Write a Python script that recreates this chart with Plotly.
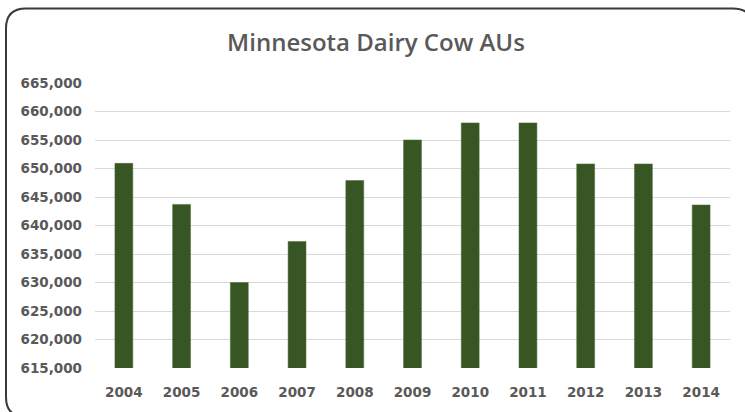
import plotly.graph_objects as go

# Minnesota dairy cow animal units by year
years = ["2004", "2005", "2006", "2007", "2008", "2009", "2010", "2011", "2012", "2013", "2014"]
animal_units = [650900, 643700, 630000, 637200, 647900, 655000, 658000, 658000, 650800, 650800, 643600]
y_ticks = list(range(615000, 665001, 5000))

W, H = 745, 412
PLOT_L, PLOT_R, PLOT_T, PLOT_B = 95, 730, 83, 368


def px_x(x):
    return (x - PLOT_L) / (PLOT_R - PLOT_L)


def px_y(y):
    return (PLOT_B - y) / (PLOT_B - PLOT_T)


def rounded_frame(x0, y0, x1, y1, r):
    pts = [
        ("M", [(x0 + r, y0)]),
        ("L", [(x1 - r, y0)]),
        ("Q", [(x1, y0), (x1, y0 + r)]),
        ("L", [(x1, y1 - r)]),
        ("Q", [(x1, y1), (x1 - r, y1)]),
        ("L", [(x0 + r, y1)]),
        ("Q", [(x0, y1), (x0, y1 - r)]),
        ("L", [(x0, y0 + r)]),
        ("Q", [(x0, y0), (x0 + r, y0)]),
    ]
    parts = []
    for cmd, coords in pts:
        parts.append(cmd + " " + " ".join(f"{px_x(a):.5f},{px_y(b):.5f}" for a, b in coords))
    return " ".join(parts) + " Z"


fig = go.Figure(
    go.Bar(
        x=years,
        y=animal_units,
        marker=dict(color="#375623", line=dict(color="#4a6a35", width=0.5)),
        hovertemplate="%{x}: %{y:,}<extra></extra>",
    )
)

fig.update_layout(
    width=W,
    height=H,
    margin=dict(l=PLOT_L, r=W - PLOT_R, t=PLOT_T, b=H - PLOT_B, pad=0),
    paper_bgcolor="white",
    plot_bgcolor="white",
    bargap=0.69,
    showlegend=False,
    title=dict(
        text="Minnesota Dairy Cow AUs",
        x=(376 / W),
        xanchor="center",
        y=1 - 43 / H,
        yanchor="middle",
        font=dict(family="Open Sans", size=24, color="#595959", weight=600),
    ),
    shapes=[
        dict(
            type="path",
            xref="paper",
            yref="paper",
            path=rounded_frame(6, 8.5, 753, 417, 20),
            line=dict(color="#3a3a3a", width=2),
            fillcolor="rgba(0,0,0,0)",
            layer="above",
        )
    ],
)

fig.update_xaxes(
    type="category",
    showgrid=False,
    showline=False,
    ticks="",
    ticklabelstandoff=14,
    tickfont=dict(family="DejaVu Sans", size=13.5, color="#595959", weight="bold"),
)

fig.update_yaxes(
    range=[615000, 665000],
    tickvals=y_ticks,
    tickformat=",",
    showgrid=True,
    gridcolor="#d9d9d9",
    gridwidth=1,
    zeroline=False,
    showline=False,
    ticks="",
    ticklabelstandoff=12,
    tickfont=dict(family="DejaVu Sans", size=13.5, color="#595959", weight="bold"),
)

fig.write_html("out.html")
